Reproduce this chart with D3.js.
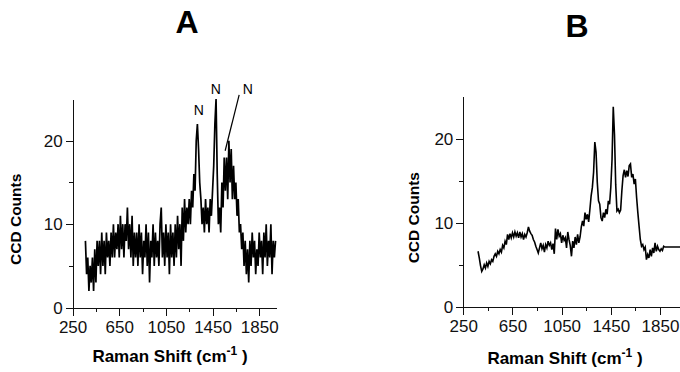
<!DOCTYPE html>
<html>
<head>
<meta charset="utf-8">
<script src="https://cdn.jsdelivr.net/npm/d3@7"></script>
<style>
  html, body { margin: 0; padding: 0; background: #fff; }
  svg { display: block; font-family: "Liberation Sans", Arial, sans-serif; }
  .axis path, .axis line { stroke: #111; stroke-width: 1; shape-rendering: crispEdges; }
  .axis text { fill: #111; font-size: 17px; }
</style>
</head>
<body>
<div id="chart"></div>
<script>
// Panel A: noisy spectrum (Raman shift in cm-1, CCD counts)
const shiftA = [
  360, 370, 380, 390, 400, 410, 420, 430, 440, 450,
  460, 470, 480, 490, 500, 510, 520, 530, 540, 550,
  560, 570, 580, 590, 600, 610, 620, 630, 640, 650,
  660, 670, 680, 690, 700, 710, 720, 730, 740, 750,
  760, 770, 780, 790, 800, 810, 820, 830, 840, 850,
  860, 870, 880, 890, 900, 910, 920, 930, 940, 950,
  960, 970, 980, 990, 1000, 1010, 1020, 1030, 1040, 1050,
  1060, 1070, 1080, 1090, 1100, 1110, 1120, 1130, 1140, 1150,
  1160, 1170, 1180, 1190, 1200, 1210, 1220, 1230, 1240, 1250,
  1260, 1270, 1280, 1290, 1300, 1310, 1320, 1330, 1340, 1350,
  1360, 1370, 1380, 1390, 1400, 1410, 1420, 1430, 1440, 1450,
  1460, 1470, 1480, 1490, 1500, 1510, 1520, 1530, 1540, 1550,
  1560, 1570, 1580, 1590, 1600, 1610, 1620, 1630, 1640, 1650,
  1660, 1670, 1680, 1690, 1700, 1710, 1720, 1730, 1740, 1750,
  1760, 1770, 1780, 1790, 1800, 1810, 1820, 1830, 1840, 1850,
  1860, 1870, 1880, 1890, 1900, 1910, 1920, 1930, 1940, 1950,
  1960, 1970, 1980, 1990
];
const countsA = [
  8, 4, 6, 2, 5, 3, 6, 2, 7, 3,
  8, 5, 8, 4, 9, 5, 8, 4, 9, 6,
  8, 5, 9, 6, 10, 6, 9, 7, 10, 6,
  11, 7, 10, 6, 10, 8, 12, 7, 10, 6,
  11, 5, 9, 6, 9, 5, 10, 6, 9, 4,
  8, 6, 10, 5, 9, 3, 8, 6, 10, 5,
  9, 6, 8, 5, 10, 12, 6, 9, 5, 10,
  6, 9, 4, 10, 6, 9, 5, 10, 6, 11,
  7, 10, 5, 12, 8, 13, 9, 12, 10, 13,
  10, 14, 12, 16, 14, 20, 22, 19, 15, 13,
  10, 12, 9, 13, 10, 12, 9, 13, 11, 14,
  17, 22, 25, 16, 10, 12, 9, 15, 12, 18,
  14, 18, 13, 20, 15, 19, 13, 17, 13, 15,
  11, 13, 9, 10, 7, 9, 5, 8, 4, 7,
  3, 8, 5, 9, 6, 8, 4, 7, 5, 9,
  6, 8, 4, 9, 6, 10, 5, 8, 6, 10,
  4, 8, 6, 8
];

// Panel B: smoother spectrum
const shiftB = [
  370, 380, 390, 400, 410, 420, 430, 440, 450, 460,
  470, 480, 490, 500, 510, 520, 530, 540, 550, 560,
  570, 580, 590, 600, 610, 620, 630, 640, 650, 660,
  670, 680, 690, 700, 710, 720, 730, 740, 750, 760,
  770, 780, 790, 800, 810, 820, 830, 840, 850, 860,
  870, 880, 890, 900, 910, 920, 930, 940, 950, 960,
  970, 980, 990, 1000, 1010, 1020, 1030, 1040, 1050, 1060,
  1070, 1080, 1090, 1100, 1110, 1120, 1130, 1140, 1150, 1160,
  1170, 1180, 1190, 1200, 1210, 1220, 1230, 1240, 1250, 1260,
  1270, 1280, 1290, 1300, 1310, 1320, 1330, 1340, 1350, 1360,
  1370, 1380, 1390, 1400, 1410, 1420, 1430, 1440, 1450, 1460,
  1470, 1480, 1490, 1500, 1510, 1520, 1530, 1540, 1550, 1560,
  1570, 1580, 1590, 1600, 1610, 1620, 1630, 1640, 1650, 1660,
  1670, 1680, 1690, 1700, 1710, 1720, 1730, 1740, 1750, 1760,
  1770, 1780, 1790, 1800, 1810, 1820, 1830, 1840, 1850, 1860,
  1870, 1880, 1890, 2013
];
const countsB = [
  6.6, 5.8, 4.9, 4.2, 4.5, 5.0, 4.6, 5.2, 4.8, 5.4,
  5.1, 5.6, 5.4, 6.0, 6.3, 6.0, 6.6, 6.3, 6.8, 6.5,
  7.3, 7.0, 7.8, 7.4, 8.6, 8.0, 8.7, 8.2, 8.8, 8.3,
  8.9, 8.4, 8.8, 8.2, 8.9, 8.3, 8.7, 8.0, 8.6, 8.3,
  8.8, 9.5, 9.0, 8.7, 8.5, 8.0, 7.7, 7.2, 6.8, 6.4,
  7.0, 7.6, 6.9, 7.3, 6.5, 7.4, 7.0, 7.8, 7.3, 7.6,
  6.8, 7.5, 6.3, 9.3, 8.0, 9.2, 8.4, 8.7, 7.6, 8.5,
  7.9, 8.2, 7.0, 8.9, 8.0, 7.3, 6.0, 7.8, 7.0, 8.3,
  7.4, 8.6, 7.6, 8.3, 9.5, 10.2, 9.6, 11.2, 10.4, 11.0,
  10.1, 11.6, 13.2, 14.2, 16.0, 19.6, 18.4, 14.8, 12.6, 12.2,
  10.6, 10.2, 11.2, 10.6, 11.6, 11.0, 12.6, 12.2, 14.2, 17.5,
  23.8, 20.5, 14.5, 11.4, 11.6, 11.2, 11.5, 13.8, 15.6, 16.3,
  15.4, 16.2, 15.5, 16.8, 17.0, 15.4, 15.8, 14.6, 15.2, 13.0,
  11.2, 9.6, 8.0, 7.2, 7.4, 6.8, 7.1, 5.6, 6.2, 5.8,
  6.8, 6.0, 7.0, 6.4, 7.6, 6.6, 7.2, 6.8, 6.6, 6.9,
  6.7, 7.2, 7.1, 7.1
];

const xTicks = [250, 650, 1050, 1450, 1850];
const xMinorTicks = [450, 850, 1250, 1650];
const yTicks = [0, 10, 20];
const yMinorTicks = [5, 15];

// "N" peak labels on panel A, plus a leader line for the third one
const peakLabels = ['N', 'N', 'N'];
const peakLabelShift = [1333, 1478, 1752];
const peakLabelCount = [23.1, 25.6, 25.6];
const leaderShift = [1678, 1558];
const leaderCount = [25.5, 18.8];

const W = 680, H = 372;

const svg = d3.select('#chart')
  .append('svg')
  .attr('width', W)
  .attr('height', H)
  .attr('viewBox', `0 0 ${W} ${H}`);

function drawPanel(p) {
  const x = d3.scaleLinear().domain(p.xDomain).range(p.xRange);
  const y = d3.scaleLinear().domain([0, 25]).range(p.yRange);
  const g = svg.append('g');

  // minor ticks first, then the main axes on top
  g.append('g')
    .attr('class', 'axis')
    .attr('transform', `translate(0,${p.yRange[0]})`)
    .call(d3.axisBottom(x).tickValues(xMinorTicks).tickSize(4).tickSizeOuter(0).tickFormat(''));
  g.append('g')
    .attr('class', 'axis')
    .attr('transform', `translate(${p.xRange[0]},0)`)
    .call(d3.axisLeft(y).tickValues(yMinorTicks).tickSize(4).tickSizeOuter(0).tickFormat(''));

  g.append('g')
    .attr('class', 'axis')
    .attr('transform', `translate(0,${p.yRange[0]})`)
    .call(d3.axisBottom(x).tickValues(xTicks).tickSize(8).tickPadding(5).tickSizeOuter(0).tickFormat(d3.format('d')));
  g.append('g')
    .attr('class', 'axis')
    .attr('transform', `translate(${p.xRange[0]},0)`)
    .call(d3.axisLeft(y).tickValues(yTicks).tickSize(7).tickPadding(3).tickSizeOuter(0).tickFormat(d3.format('d')));

  // spectrum
  const pts = p.shift.map((s, i) => [s, p.counts[i]]);
  g.append('path')
    .datum(pts)
    .attr('fill', 'none')
    .attr('stroke', '#000')
    .attr('stroke-width', p.lineWidth)
    .attr('stroke-linejoin', 'miter')
    .attr('d', d3.line().x(d => x(d[0])).y(d => y(d[1])));

  // panel letter
  svg.append('text')
    .attr('x', p.titleX)
    .attr('y', p.titleY)
    .attr('text-anchor', 'middle')
    .attr('font-size', '32px')
    .attr('font-weight', 'bold')
    .attr('fill', '#000')
    .text(p.title);

  // y title
  svg.append('text')
    .attr('transform', `translate(${p.yTitleX},${(p.yRange[0] + p.yRange[1]) / 2 + 16}) rotate(-90)`)
    .attr('text-anchor', 'middle')
    .attr('font-size', '15.5px')
    .attr('font-weight', 'bold')
    .attr('fill', '#000')
    .text('CCD Counts');

  // x title with superscript
  const xt = svg.append('text')
    .attr('x', p.xTitleX)
    .attr('y', p.xTitleY)
    .attr('text-anchor', 'middle')
    .attr('font-size', '17px')
    .attr('font-weight', 'bold')
    .attr('fill', '#000');
  xt.append('tspan').text('Raman Shift (cm');
  xt.append('tspan').attr('font-size', '12px').attr('dy', -7).text('-1');
  xt.append('tspan').attr('dy', 7).text(' )');

  return { x, y, g };
}

const A = drawPanel({
  shift: shiftA, counts: countsA, lineWidth: 1.7,
  xDomain: [250, 2000], xRange: [72.6, 276.7], yRange: [307.6, 99],
  title: 'A', titleX: 187, titleY: 33,
  yTitleX: 21, xTitleX: 170, xTitleY: 361.5
});

drawPanel({
  shift: shiftB, counts: countsB, lineWidth: 1.6,
  xDomain: [250, 2013], xRange: [463.3, 680], yRange: [306.7, 96.7],
  title: 'B', titleX: 577, titleY: 37,
  yTitleX: 419, xTitleX: 565, xTitleY: 364
});

// peak annotations on panel A
A.g.selectAll('.peak-label')
  .data(peakLabels)
  .enter()
  .append('text')
  .attr('class', 'peak-label')
  .attr('x', (d, i) => A.x(peakLabelShift[i]))
  .attr('y', (d, i) => A.y(peakLabelCount[i]))
  .attr('text-anchor', 'middle')
  .attr('font-size', '14px')
  .attr('fill', '#000')
  .text(d => d);

A.g.append('line')
  .attr('x1', A.x(leaderShift[0]))
  .attr('y1', A.y(leaderCount[0]))
  .attr('x2', A.x(leaderShift[1]))
  .attr('y2', A.y(leaderCount[1]))
  .attr('stroke', '#000')
  .attr('stroke-width', 1.2);
</script>
</body>
</html>
